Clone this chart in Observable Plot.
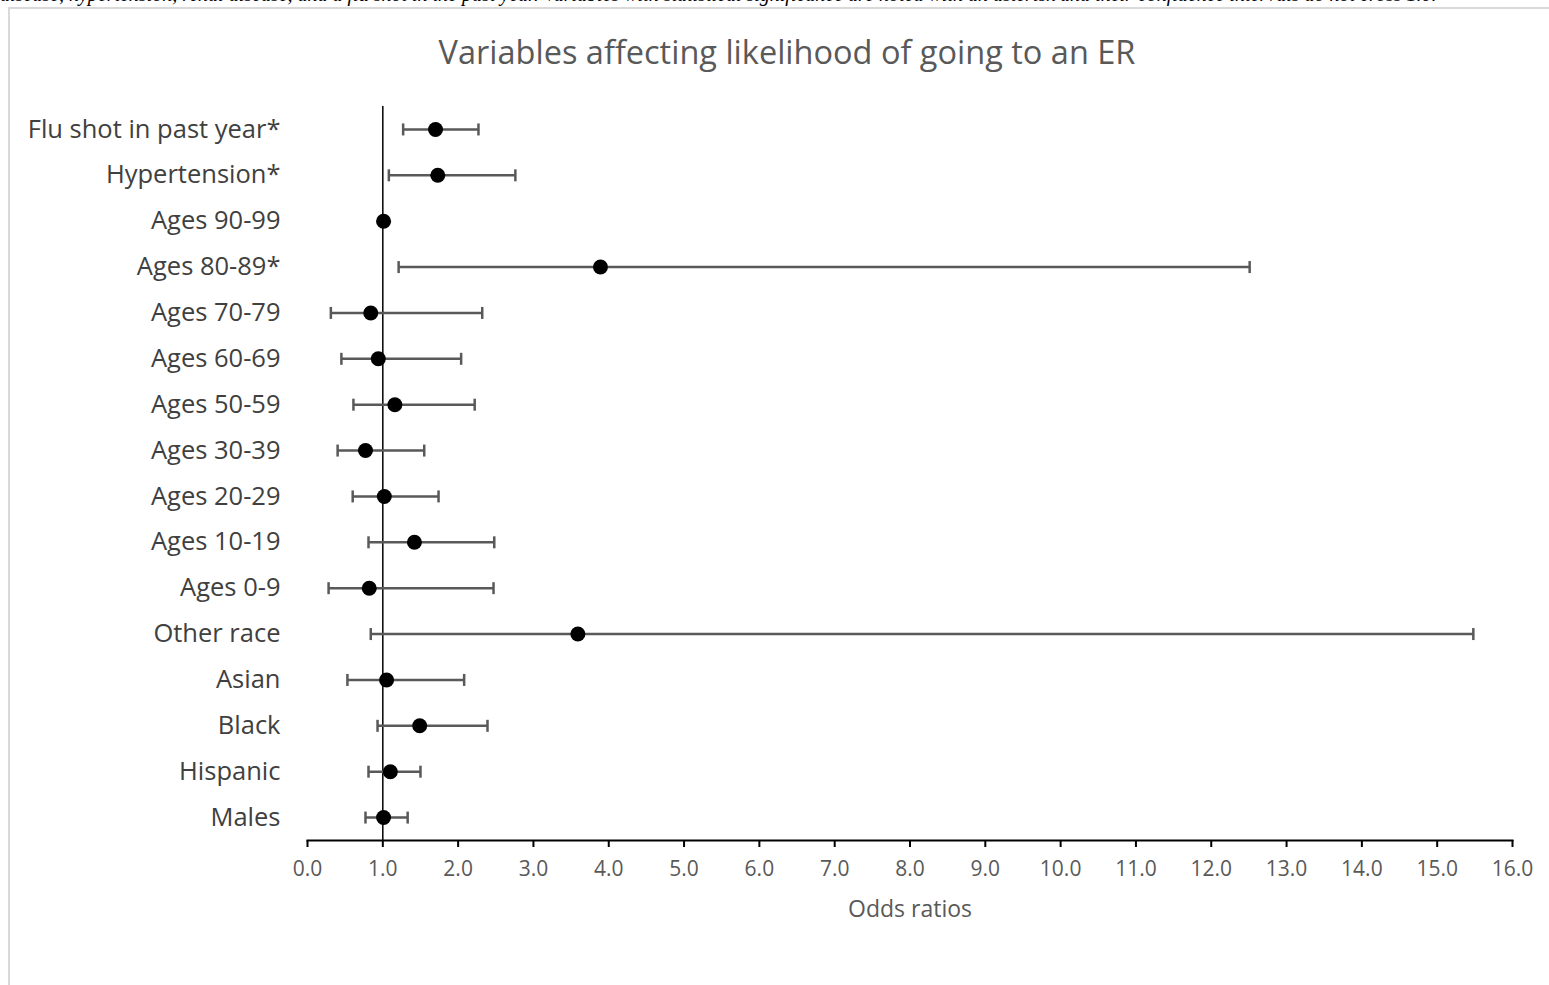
<!DOCTYPE html>
<html>
<head>
<meta charset="utf-8">
<script src="https://cdn.jsdelivr.net/npm/d3@7"></script>
<script src="https://cdn.jsdelivr.net/npm/@observablehq/plot@0.6"></script>
<style>
  html, body { margin: 0; padding: 0; background: #fff; overflow: hidden; width: 1549px; height: 985px; }
  #caption { position: absolute; left: 0; top: -16px; font: italic 20px "Liberation Serif", serif; color: #000; white-space: nowrap; line-height: 20px; }
  #frame { position: absolute; left: 8px; top: 7px; width: 1560px; height: 1000px; border: 2px solid #d9d9d9; box-sizing: border-box; }
  #title { position: absolute; left: 0; width: 1574px; top: 29px; text-align: center; font: 32.5px "Open Sans", sans-serif; color: #595959; line-height: 46px; }
  #chart { position: absolute; left: 0; top: 90px; }
  #chart svg { font-family: "Open Sans", sans-serif; }
  #chart g[aria-label="y-axis tick label"] text { fill: #404040; font-size: 25.5px; }
  #chart g[aria-label="x-axis tick label"] text { fill: #595959; font-size: 21px; }
  #chart g[aria-label="x-axis label"] text { fill: #595959; font-size: 23px; }
  #chart g[aria-label="x-axis tick"] path { stroke: #000; stroke-width: 2; }
</style>
</head>
<body>
<div id="caption">disease, hypertension, renal disease, and a flu shot in the past year. Variables with statistical significance are noted with an asterisk and their confidence intervals do not cross 1.0.</div>
<div id="frame"></div>
<div id="title">Variables affecting likelihood of going to an ER</div>
<div id="chart"></div>
<script>
const categories = ["Flu shot in past year*", "Hypertension*", "Ages 90-99", "Ages 80-89*", "Ages 70-79", "Ages 60-69", "Ages 50-59", "Ages 30-39", "Ages 20-29", "Ages 10-19", "Ages 0-9", "Other race", "Asian", "Black", "Hispanic", "Males"];
const oddsRatio = [1.70, 1.73, 1.01, 3.89, 0.84, 0.94, 1.16, 0.77, 1.02, 1.42, 0.82, 3.59, 1.05, 1.49, 1.10, 1.01];
const ciLow     = [1.27, 1.08, null, 1.21, 0.31, 0.45, 0.61, 0.40, 0.60, 0.81, 0.28, 0.84, 0.53, 0.93, 0.81, 0.77];
const ciHigh    = [2.27, 2.76, null, 12.51, 2.32, 2.04, 2.22, 1.55, 1.74, 2.48, 2.47, 15.48, 2.08, 2.39, 1.50, 1.33];
const xTicks = d3.range(0, 17);
const referenceOR = 1;

const rows = categories.map((name, i) => ({name, or: oddsRatio[i], lo: ciLow[i], hi: ciHigh[i]}));
const ciRows = rows.filter(d => d.lo != null);

const vbar = {
  draw(ctx, size) {
    const h = Math.sqrt(size / Math.PI);
    ctx.moveTo(0, -h);
    ctx.lineTo(0, h);
  }
};

const chart = Plot.plot({
  width: 1549,
  height: 880,
  marginLeft: 307,
  marginRight: 37,
  marginTop: 16,
  marginBottom: 130,
  x: {domain: [0, 16], ticks: xTicks},
  y: {type: "point", domain: categories, padding: 0.5, round: false},
  marks: [
    Plot.ruleX([referenceOR], {stroke: "#000", strokeWidth: 1.5}),
    Plot.frame({anchor: "bottom", stroke: "#000", strokeWidth: 2}),
    Plot.axisY({tickSize: 0, tickPadding: 27, label: null}),
    Plot.axisX({ticks: xTicks, tickFormat: d3.format(".1f"), tickSize: 7, tickPadding: 14, label: "Odds ratios", labelAnchor: "center", labelOffset: 76, labelArrow: "none"}),
    Plot.ruleY(ciRows, {y: "name", x1: "lo", x2: "hi", stroke: "#595959", strokeWidth: 2.5}),
    Plot.dot(ciRows, {x: "lo", y: "name", symbol: vbar, r: 6, fill: "none", stroke: "#595959", strokeWidth: 2.5}),
    Plot.dot(ciRows, {x: "hi", y: "name", symbol: vbar, r: 6, fill: "none", stroke: "#595959", strokeWidth: 2.5}),
    Plot.dot(rows, {x: "or", y: "name", r: 7.5, fill: "#000", stroke: "none"})
  ]
});
document.getElementById("chart").appendChild(chart);
</script>
</body>
</html>
